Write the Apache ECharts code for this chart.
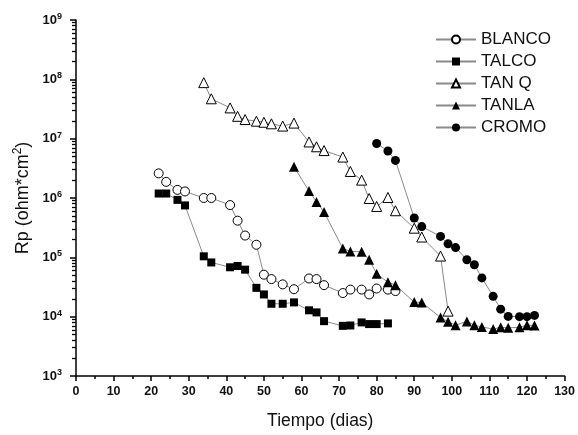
<!DOCTYPE html>
<html>
<head>
<meta charset="utf-8">
<script src="https://cdn.jsdelivr.net/npm/echarts@6/dist/echarts.min.js"></script>
<style>
html,body{margin:0;padding:0;background:#fff;}
#chart{width:578px;height:435px;}
</style>
</head>
<body>
<div id="chart"></div>
<script>
// ---- data (Tiempo in days, Rp in ohm*cm^2) ----
const seriesNames = ['BLANCO', 'TALCO', 'TAN Q', 'TANLA', 'CROMO'];

const blancoDays = [22, 24, 27, 29, 34, 36, 41, 43, 45, 48, 50, 52, 55, 58, 62, 64, 66, 71, 73, 76, 78, 80, 83, 85];
const blancoRp   = [2.6e6, 1.87e6, 1.37e6, 1.29e6, 1.0e6, 1.0e6, 7.6e5, 4.15e5, 2.33e5, 1.63e5, 5.1e4, 4.3e4, 3.5e4, 2.9e4, 4.4e4, 4.3e4, 3.4e4, 2.5e4, 2.86e4, 2.86e4, 2.37e4, 2.98e4, 2.86e4, 2.7e4];

const talcoDays = [22, 24, 27, 29, 34, 36, 41, 43, 45, 48, 50, 52, 55, 58, 62, 64, 66, 71, 73, 76, 78, 80, 83];
const talcoRp   = [1.19e6, 1.19e6, 9.3e5, 7.5e5, 1.04e5, 8.2e4, 6.8e4, 7.15e4, 6.2e4, 3.06e4, 2.37e4, 1.65e4, 1.65e4, 1.74e4, 1.28e4, 1.18e4, 8.4e3, 7.0e3, 7.1e3, 8.0e3, 7.5e3, 7.5e3, 7.7e3];

const tanqDays = [34, 36, 41, 43, 45, 48, 50, 52, 55, 58, 62, 64, 66, 71, 73, 76, 78, 80, 83, 85, 90, 92, 97, 99];
const tanqRp   = [8.8e7, 4.7e7, 3.3e7, 2.38e7, 2.1e7, 1.97e7, 1.89e7, 1.78e7, 1.63e7, 1.83e7, 8.8e6, 7.3e6, 6.3e6, 4.9e6, 2.8e6, 2.0e6, 9.8e5, 7.2e5, 1.02e6, 6.1e5, 3.1e5, 2.2e5, 1.05e5, 1.24e4];

const tanlaDays = [58, 62, 64, 66, 71, 73, 76, 78, 80, 83, 85, 90, 92, 97, 99, 101, 104, 106, 108, 111, 113, 115, 118, 120, 122];
const tanlaRp   = [3.36e6, 1.31e6, 8.6e5, 5.8e5, 1.41e5, 1.26e5, 1.24e5, 9.1e4, 5.3e4, 3.8e4, 3.4e4, 1.76e4, 1.74e4, 9.7e3, 8.2e3, 7.2e3, 8.3e3, 7.2e3, 6.7e3, 6.2e3, 6.6e3, 6.5e3, 6.6e3, 7.2e3, 7.1e3];

const cromoDays = [80, 83, 85, 90, 92, 97, 99, 101, 104, 106, 108, 111, 113, 115, 118, 120, 122];
const cromoRp   = [8.3e6, 6.2e6, 4.3e6, 4.6e5, 3.3e5, 2.25e5, 1.69e5, 1.46e5, 9.1e4, 7.5e4, 4.5e4, 2.2e4, 1.34e4, 1.01e4, 1.0e4, 1.0e4, 1.05e4];

const xTickValues = [0, 10, 20, 30, 40, 50, 60, 70, 80, 90, 100, 110, 120, 130];
const yDecadeExponents = [3, 4, 5, 6, 7, 8, 9];

// minor log ticks (2..9 x 10^e) for the y axis
const yMinorTicks = [];
for (let e = yDecadeExponents[0]; e < yDecadeExponents[yDecadeExponents.length - 1]; e++) {
  for (let m = 2; m <= 9; m++) yMinorTicks.push(m * Math.pow(10, e));
}

function zip(a, b) { return a.map((v, i) => [v, b[i]]); }

const FONT = '"Liberation Sans", Arial, sans-serif';
const LINE_COLOR = '#8a8a8a';

function mkSeries(name, days, vals, symbol, filled, size) {
  return {
    name: name,
    type: 'line',
    data: zip(days, vals),
    symbol: symbol,
    symbolSize: size,
    showAllSymbol: true,
    lineStyle: { color: LINE_COLOR, width: 1 },
    itemStyle: filled
      ? { color: '#000', borderColor: '#000', borderWidth: 0 }
      : { color: '#fff', borderColor: '#000', borderWidth: 1 },
    emphasis: { disabled: true },
    z: 3
  };
}

const chart = echarts.init(document.getElementById('chart'));

const option = {
  animation: false,
  backgroundColor: '#fff',
  textStyle: { fontFamily: FONT },
  grid: { left: 76, right: 11, top: 20, bottom: 57 },
  legend: {
    data: seriesNames,
    orient: 'vertical',
    left: 430,
    top: 26,
    itemWidth: 40,
    itemHeight: 10,
    itemGap: 5,
    textStyle: { fontFamily: FONT, fontSize: 17, color: '#111' },
    selectedMode: false
  },
  xAxis: {
    type: 'value',
    min: 0,
    max: 130,
    interval: 10,
    name: 'Tiempo (dias)',
    nameLocation: 'middle',
    nameGap: 36,
    nameTextStyle: { fontFamily: FONT, fontSize: 17.5, color: '#111' },
    axisLine: { show: true, lineStyle: { color: '#000', width: 1.5 } },
    axisTick: { show: true, length: 5, lineStyle: { color: '#000', width: 1.5 } },
    minorTick: { show: true, splitNumber: 2, length: 3, lineStyle: { color: '#000', width: 1.5 } },
    splitLine: { show: false },
    axisLabel: {
      margin: 9,
      fontFamily: FONT, fontSize: 12.5, fontWeight: 'bold', color: '#111',
      formatter: function (v) { return xTickValues.indexOf(v) >= 0 ? String(v) : ''; }
    }
  },
  yAxis: [{
    type: 'log',
    logBase: 10,
    min: 1e3,
    max: 1e9,
    name: '{n|Rp (ohm*cm}{s|2}{n|)}',
    nameLocation: 'middle',
    nameGap: 33,
    nameRotate: 90,
    nameTextStyle: {
      fontFamily: FONT, color: '#111',
      rich: {
        n: { fontFamily: FONT, fontSize: 18, color: '#111' },
        s: { fontFamily: FONT, fontSize: 12, color: '#111', verticalAlign: 'top', padding: [0, 0, 9, 0] }
      }
    },
    axisLine: { show: true, lineStyle: { color: '#000', width: 1.5 } },
    axisTick: { show: true, length: 6, lineStyle: { color: '#000', width: 1.5 } },
    splitLine: { show: false },
    axisLabel: {
      margin: 14,
      formatter: function (v) {
        const e = Math.round(Math.log10(v));
        return '{b|10}{s|' + e + '}';
      },
      rich: {
        b: { fontFamily: FONT, fontSize: 13, fontWeight: 'bold', color: '#111' },
        s: { fontFamily: FONT, fontSize: 9, fontWeight: 'bold', color: '#111', verticalAlign: 'top', padding: [0, 0, 7, 0] }
      }
    }
  }, {
    // label-less copy of the log axis that only carries the minor ticks
    type: 'log',
    logBase: 10,
    min: 1e3,
    max: 1e9,
    position: 'left',
    axisLine: { show: false },
    axisLabel: { show: false },
    splitLine: { show: false },
    axisTick: { show: true, length: 4, customValues: yMinorTicks, lineStyle: { color: '#000', width: 1.3 } }
  }],
  series: [
    mkSeries('BLANCO', blancoDays, blancoRp, 'circle', false, 9),
    mkSeries('TALCO', talcoDays, talcoRp, 'rect', true, 8),
    mkSeries('TAN Q', tanqDays, tanqRp, 'triangle', false, 10),
    mkSeries('TANLA', tanlaDays, tanlaRp, 'triangle', true, 10),
    mkSeries('CROMO', cromoDays, cromoRp, 'circle', true, 9)
  ]
};

chart.setOption(option);
</script>
</body>
</html>
